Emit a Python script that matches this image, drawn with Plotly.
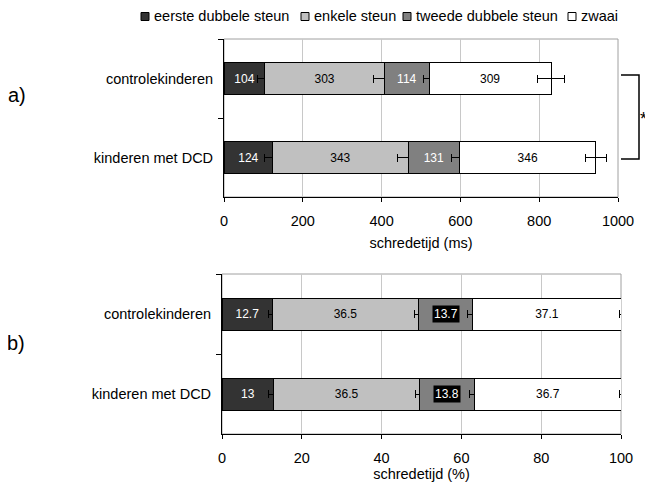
import plotly.graph_objects as go

# ---------------- data ----------------
groups = ["controlekinderen", "kinderen met DCD"]
phases = ["eerste dubbele steun", "enkele steun", "tweede dubbele steun", "zwaai"]

ms_eerste = [104, 124]
ms_enkele = [303, 343]
ms_tweede = [114, 131]
ms_zwaai = [309, 346]
ms_err_eerste = [20, 22]
ms_err_enkele = [28, 26]
ms_err_tweede = [14, 20]
ms_err_zwaai = [35, 26]

pct_eerste = [12.7, 13]
pct_enkele = [36.5, 36.5]
pct_tweede = [13.7, 13.8]
pct_zwaai = [37.1, 36.7]
pct_err_eerste = [1.0, 1.3]
pct_err_enkele = [1.0, 1.0]
pct_err_tweede = [1.3, 1.3]
pct_err_zwaai = [0.4, 0.4]

x_ticks_ms = [0, 200, 400, 600, 800, 1000]
x_ticks_pct = [0, 20, 40, 60, 80, 100]

# ---------------- styling ----------------
OFF = 8  # default page body margin
W, H = 653 - OFF, 489 - OFF
FONT = "Liberation Sans, Arial, sans-serif"
colors = ["#333333", "#c0c0c0", "#808080", "#ffffff"]
txtcolors_a = ["white", "black", "white", "black"]
txtcolors_b = ["white", "black", "rgba(0,0,0,0)", "black"]
LBL = 12


def px(x):
    return (x - OFF) / W


def py(y):
    return 1 - (y - OFF) / H


fig = go.Figure()

ms_vals = [ms_eerste, ms_enkele, ms_tweede, ms_zwaai]
ms_errs = [ms_err_eerste, ms_err_enkele, ms_err_tweede, ms_err_zwaai]
pct_vals = [pct_eerste, pct_enkele, pct_tweede, pct_zwaai]
pct_errs = [pct_err_eerste, pct_err_enkele, pct_err_tweede, pct_err_zwaai]

for i, name in enumerate(phases):
    fig.add_trace(go.Bar(
        y=groups, x=ms_vals[i], orientation="h", name=name,
        marker=dict(color=colors[i], line=dict(color="black", width=1)),
        text=ms_vals[i], texttemplate="%{x}", textposition="inside",
        insidetextanchor="middle", textangle=0,
        textfont=dict(family=FONT, size=LBL, color=txtcolors_a[i]),
        error_x=dict(type="data", array=ms_errs[i], color="black", thickness=1, width=4),
        xaxis="x", yaxis="y", showlegend=False,
    ))
for i, name in enumerate(phases):
    fig.add_trace(go.Bar(
        y=groups, x=pct_vals[i], orientation="h", name=name,
        marker=dict(color=colors[i], line=dict(color="black", width=1)),
        text=pct_vals[i], texttemplate="%{x}", textposition="inside",
        insidetextanchor="middle", textangle=0,
        textfont=dict(family=FONT, size=LBL, color=txtcolors_b[i]),
        error_x=dict(type="data", array=pct_errs[i], color="black", thickness=1, width=4),
        xaxis="x2", yaxis="y2", showlegend=False,
    ))

axis_common = dict(
    automargin=False,
    showline=True, linecolor="black", linewidth=1,
    ticks="outside", ticklen=4, tickcolor="black", tickwidth=1,
    ticklabelstandoff=7,
    showgrid=True, gridcolor="#c8c8c8", gridwidth=1,
    zeroline=False, tickfont=dict(family=FONT, size=14.5, color="black"),
)
yaxis_common = dict(
    automargin=False,
    type="category", categoryorder="array", categoryarray=groups,
    autorange="reversed", tickson="boundaries",
    showline=True, linecolor="black", linewidth=1,
    ticks="outside", ticklen=5, tickcolor="black", tickwidth=1,
    ticklabelstandoff=7,
    showgrid=False, zeroline=False,
    tickfont=dict(family=FONT, size=14.5, color="black"),
)

fig.update_layout(
    template="none",
    width=W, height=H,
    margin=dict(l=0, r=0, t=0, b=0, pad=0, autoexpand=False),
    paper_bgcolor="white", plot_bgcolor="white",
    barmode="stack", bargap=0.6,
    showlegend=False,
    font=dict(family=FONT, size=14.5, color="black"),
    xaxis=dict(domain=[px(224), px(618)], anchor="y", range=[0, 1000],
               tickvals=x_ticks_ms,
               title=dict(text="schredetijd (ms)", standoff=9,
                          font=dict(family=FONT, size=14.5)),
               **axis_common),
    yaxis=dict(domain=[py(197), py(39)], anchor="x", **yaxis_common),
    xaxis2=dict(domain=[px(222), px(621)], anchor="y2", range=[0, 100],
                tickvals=x_ticks_pct,
                title=dict(text="schredetijd (%)", standoff=3,
                           font=dict(family=FONT, size=14.5)),
                **axis_common),
    yaxis2=dict(domain=[py(434), py(274)], anchor="x2", **yaxis_common),
)

shapes = []
annotations = []

# plot frames (gray top/right)
for xr, yr in [("x domain", "y domain"), ("x2 domain", "y2 domain")]:
    shapes.append(dict(type="rect", xref=xr, yref=yr, x0=0, x1=1, y0=0, y1=1,
                       line=dict(color="#a0a0a0", width=1), layer="below"))

# labels with black box for panel b, tweede dubbele steun
for gi, g in enumerate(groups):
    mid = pct_eerste[gi] + pct_enkele[gi] + pct_tweede[gi] / 2
    annotations.append(dict(x=mid, y=g, xref="x2", yref="y2", text=str(pct_tweede[gi]),
                            showarrow=False, bgcolor="black", borderpad=1,
                            font=dict(family=FONT, size=LBL, color="white")))

# significance bracket
shapes.append(dict(type="path", xref="paper", yref="paper",
                   path=f"M{px(621)},{py(75)} L{px(639)},{py(75)} L{px(639)},{py(159)} L{px(621)},{py(159)}",
                   line=dict(color="black", width=1.5)))
annotations.append(dict(x=px(648.5), y=py(119), xref="paper", yref="paper", text="*",
                        xanchor="right", yanchor="middle",
                        showarrow=False, font=dict(family=FONT, size=18, color="black")))

# panel labels
annotations.append(dict(x=px(17), y=py(95), xref="paper", yref="paper", text="a)",
                        xanchor="center", yanchor="middle",
                        showarrow=False, font=dict(family=FONT, size=20, color="black")))
annotations.append(dict(x=px(16), y=py(343), xref="paper", yref="paper", text="b)",
                        xanchor="center", yanchor="middle",
                        showarrow=False, font=dict(family=FONT, size=20, color="black")))

# custom legend
leg_sq_x = [141, 301, 403, 568]
for i, name in enumerate(phases):
    x0 = leg_sq_x[i]
    shapes.append(dict(type="rect", xref="paper", yref="paper",
                       x0=px(x0), x1=px(x0 + 8), y0=py(20.5), y1=py(12.5),
                       fillcolor=colors[i], line=dict(color="black", width=1)))
    annotations.append(dict(x=px(x0 + 11), y=py(16.5), xref="paper", yref="paper",
                            text=name, showarrow=False, xanchor="left", yanchor="middle",
                            font=dict(family=FONT, size=14.5, color="black")))

fig.update_layout(shapes=shapes, annotations=annotations)

fig.write_html("out.html")
